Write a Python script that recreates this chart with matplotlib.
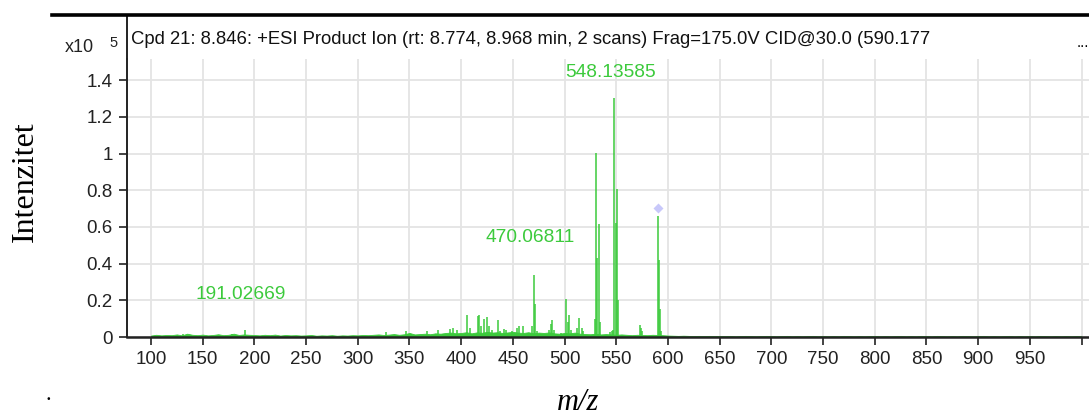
import numpy as np
import matplotlib.pyplot as plt
from matplotlib.lines import Line2D

# product ion spectrum, intensities in units of 1e5 counts
peak_mz = [131.0, 178.0, 191.02669, 327.3, 346.3, 366.5, 377.8, 389.2, 392.4,
           396.0, 406.0, 409.0, 416.5, 417.5, 419.5, 422.3, 424.6, 426.5,
           430.0, 435.3, 437.5, 441.7, 443.5, 449.0, 453.6, 455.5, 459.5,
           468.5, 470.06811, 471.1, 473.5, 484.5, 486.5, 488.1, 490.0, 497.0,
           501.7, 503.0, 504.6, 506.5, 511.7, 514.3, 516.5, 518.0, 529.6,
           530.6, 531.6, 533.2, 534.5, 544.0, 545.5, 547.0, 548.13585, 549.6,
           550.9, 552.0, 572.8, 573.8, 575.0, 590.177, 591.2, 592.2, 593.5]
peak_int = [0.016, 0.016, 0.036, 0.025, 0.030, 0.030, 0.040, 0.045, 0.050,
            0.040, 0.118, 0.050, 0.115, 0.120, 0.060, 0.100, 0.110, 0.060,
            0.040, 0.095, 0.030, 0.045, 0.040, 0.030, 0.050, 0.060, 0.060,
            0.060, 0.340, 0.180, 0.030, 0.040, 0.070, 0.095, 0.040, 0.020,
            0.205, 0.080, 0.118, 0.040, 0.050, 0.105, 0.050, 0.030, 0.100,
            1.005, 0.430, 0.618, 0.080, 0.027, 0.030, 0.040, 1.305, 0.620,
            0.805, 0.200, 0.064, 0.050, 0.030, 0.658, 0.420, 0.150, 0.030]

# baseline noise sampled every 5 m/z from 100 to 1000
noise_mz = np.arange(100, 1005, 5)
noise_int = [
    0.008, 0.012, 0.009, 0.011, 0.010, 0.014, 0.009, 0.018, 0.012, 0.010,
    0.013, 0.009, 0.011, 0.015, 0.010, 0.012, 0.018, 0.011, 0.014, 0.012,
    0.011, 0.009, 0.012, 0.010, 0.013, 0.008, 0.011, 0.009, 0.010, 0.008,
    0.009, 0.011, 0.007, 0.009, 0.008, 0.010, 0.007, 0.009, 0.008, 0.010,
    0.009, 0.011, 0.010, 0.012, 0.014, 0.011, 0.013, 0.016, 0.012, 0.015,
    0.022, 0.014, 0.016, 0.018, 0.015, 0.020, 0.018, 0.022, 0.024, 0.020,
    0.022, 0.026, 0.020, 0.025, 0.023, 0.028, 0.024, 0.026, 0.022, 0.025,
    0.028, 0.024, 0.022, 0.026, 0.020, 0.024, 0.022, 0.025, 0.020, 0.018,
    0.022, 0.020, 0.024, 0.018, 0.016, 0.015, 0.018, 0.014, 0.016, 0.014,
    0.012, 0.014, 0.012, 0.010, 0.012, 0.011, 0.010, 0.012, 0.011, 0.010,
    0.008, 0.007, 0.006, 0.007, 0.006, 0.005, 0.006, 0.005, 0.006, 0.005,
    0.006, 0.005, 0.006, 0.004, 0.005, 0.006, 0.005, 0.004, 0.005, 0.006,
    0.005, 0.004, 0.005, 0.006, 0.004, 0.005, 0.004, 0.005, 0.006, 0.004,
    0.005, 0.004, 0.005, 0.004, 0.006, 0.005, 0.004, 0.005, 0.004, 0.005,
    0.006, 0.004, 0.005, 0.004, 0.005, 0.006, 0.004, 0.005, 0.004, 0.006,
    0.005, 0.004, 0.006, 0.005, 0.004, 0.005, 0.004, 0.006, 0.005, 0.004,
    0.005, 0.006, 0.004, 0.005, 0.004, 0.005, 0.006, 0.004, 0.005, 0.004,
    0.005, 0.004, 0.006, 0.005, 0.004, 0.005, 0.004, 0.005, 0.004, 0.005,
    0.004,
]

labelled_mz = [191.02669, 470.06811, 548.13585]
labelled_int = [0.036, 0.340, 1.305]
label_dy = [36, 37, 25]  # pixels above the peak top

precursor_mz = 590.177
precursor_int = 0.703

title = ("Cpd 21: 8.846: +ESI Product Ion (rt: 8.774, 8.968 min, 2 scans) "
         "Frag=175.0V CID@30.0 (590.177")

green = '#3cca3c'
W, H = 1089, 416

fig = plt.figure(figsize=(W / 100, H / 100), dpi=100)
x0, y_bot, y_top = 126.7, 337.0, 59.0
ax = fig.add_axes([x0 / W, 1 - y_bot / H, 1 - x0 / W, (y_bot - y_top) / H])

ax.fill_between(noise_mz, noise_int, color=green, lw=0.6)
ax.vlines(peak_mz, 0, peak_int, color=green, lw=1.1)
ax.plot([precursor_mz], [precursor_int], marker='D', ms=5.6,
        color='#c8c8fa', mec='none', ls='none')

for mz, h, dy in zip(labelled_mz, labelled_int, label_dy):
    ax.annotate(f'{mz:.5f}', (mz, h), xytext=(-4, dy), textcoords='offset pixels',
                ha='center', va='center', color=green, fontsize=13.8,
                family='Liberation Sans')

ax.set_xlim(76.5, 1007.2)
ax.set_ylim(0, 1.515)
xt = np.arange(100, 1001, 50)
ax.set_xticks(xt)
ax.set_xticklabels([str(v) if v < 1000 else '' for v in xt])
yt = [0, 0.2, 0.4, 0.6, 0.8, 1.0, 1.2, 1.4]
ax.set_yticks(yt)
ax.set_yticklabels(['0', '0.2', '0.4', '0.6', '0.8', '1', '1.2', '1.4'])
ax.grid(True, color='#e4e4e4', lw=1.3)
ax.set_axisbelow(True)
ax.tick_params(axis='both', labelsize=13.5, colors='#222222', width=1.2)
ax.tick_params(axis='x', length=6, pad=4)
ax.tick_params(axis='y', length=6, pad=4)
for lab in ax.get_xticklabels() + ax.get_yticklabels():
    lab.set_family('Liberation Sans')
for side in ('top', 'right'):
    ax.spines[side].set_visible(False)
ax.spines['left'].set_linewidth(1.4)
ax.spines['bottom'].set_linewidth(1.8)
ax.spines['left'].set_color('#222222')
ax.spines['bottom'].set_color('#222222')


def px(x, y):
    return x / W, 1 - y / H


# header box above the plot
fig.add_artist(Line2D([x0 / W, x0 / W], [1 - 17 / H, 1 - y_top / H],
                      color='#222222', lw=1.4))
fig.add_artist(Line2D([52 / W, 1.0], [1 - 15 / H, 1 - 15 / H],
                      color='black', lw=2.6))
fig.text(*px(131, 40), title, ha='left', va='center', fontsize=13.3,
         family='Liberation Sans', color='#111111')
fig.text(*px(1077, 43), '...', ha='left', va='center', fontsize=11,
         family='Liberation Sans')
fig.text(*px(65, 48), 'x10', ha='left', va='center', fontsize=13,
         family='Liberation Sans', color='#222222')
fig.text(*px(109, 43), '5', ha='left', va='center', fontsize=10.5,
         family='Liberation Sans', color='#222222')

fig.text(*px(25, 182), 'Intenzitet', rotation=90, ha='center', va='center',
         fontsize=23, family='Liberation Serif')
fig.text(*px(578, 403), 'm/z', ha='center', va='center', fontsize=22,
         family='Liberation Serif', style='italic')
fig.text(*px(48, 400), '.', ha='center', va='baseline', fontsize=16,
         family='Liberation Serif')

fig.savefig('out.png', dpi=100)
